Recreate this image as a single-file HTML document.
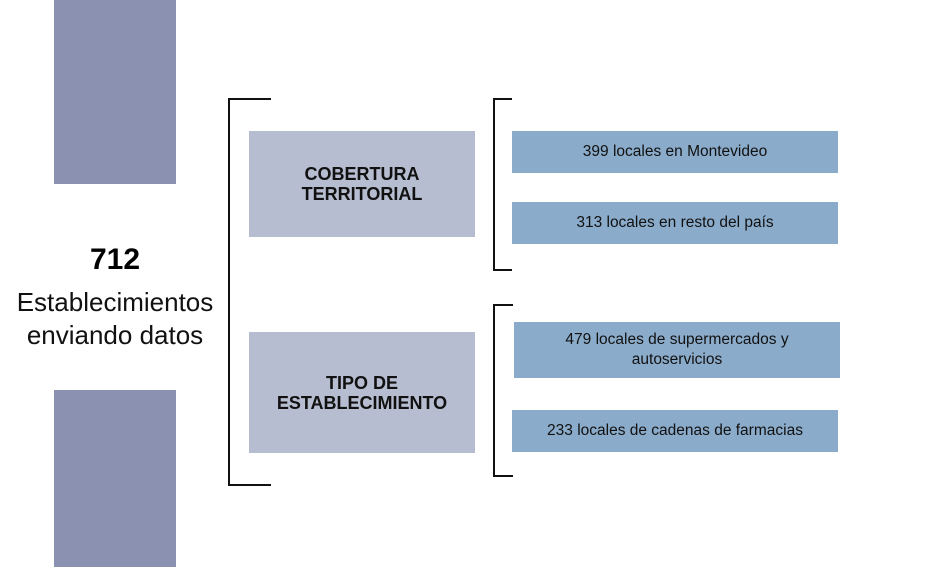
<!DOCTYPE html>
<html><head><style>
body{margin:0;width:935px;height:567px;background:#fff;position:relative;overflow:hidden;font-family:"Liberation Sans",sans-serif;}
div{position:absolute;box-sizing:border-box;}
.bar{left:54px;width:122px;background:#8b91b0;}
.g{left:249px;width:226px;background:#b6bdd0;display:flex;align-items:center;justify-content:center;text-align:center;font-weight:bold;font-size:18px;line-height:20px;color:#111;}
.b{background:#8aabca;display:flex;align-items:center;justify-content:center;text-align:center;font-size:15.5px;line-height:20px;color:#111;}
.br{border:2px solid #111;border-right:none;}
</style></head><body>
<div class="bar" style="top:0;height:184px"></div>
<div class="bar" style="top:390px;height:177px"></div>
<div style="left:0;width:230px;top:243px;text-align:center;font-weight:bold;font-size:30px;">712</div>
<div style="left:0;width:230px;top:286px;text-align:center;font-size:26px;line-height:33px;color:#111;">Establecimientos<br>enviando datos</div>
<div class="br" style="left:228px;top:98px;width:43px;height:388px"></div>
<div class="br" style="left:493px;top:98px;width:19px;height:173px"></div>
<div class="br" style="left:493px;top:304px;width:20px;height:173px"></div>
<div class="g" style="top:131px;height:106px">COBERTURA<br>TERRITORIAL</div>
<div class="g" style="top:332px;height:121px">TIPO DE<br>ESTABLECIMIENTO</div>
<div class="b" style="left:512px;width:326px;top:131px;height:42px">399 locales en Montevideo</div>
<div class="b" style="left:512px;width:326px;top:202px;height:42px">313 locales en resto del país</div>
<div class="b" style="left:514px;width:326px;top:322px;height:56px">479 locales de supermercados y<br>autoservicios</div>
<div class="b" style="left:512px;width:326px;top:410px;height:42px">233 locales de cadenas de farmacias</div>
</body></html>
